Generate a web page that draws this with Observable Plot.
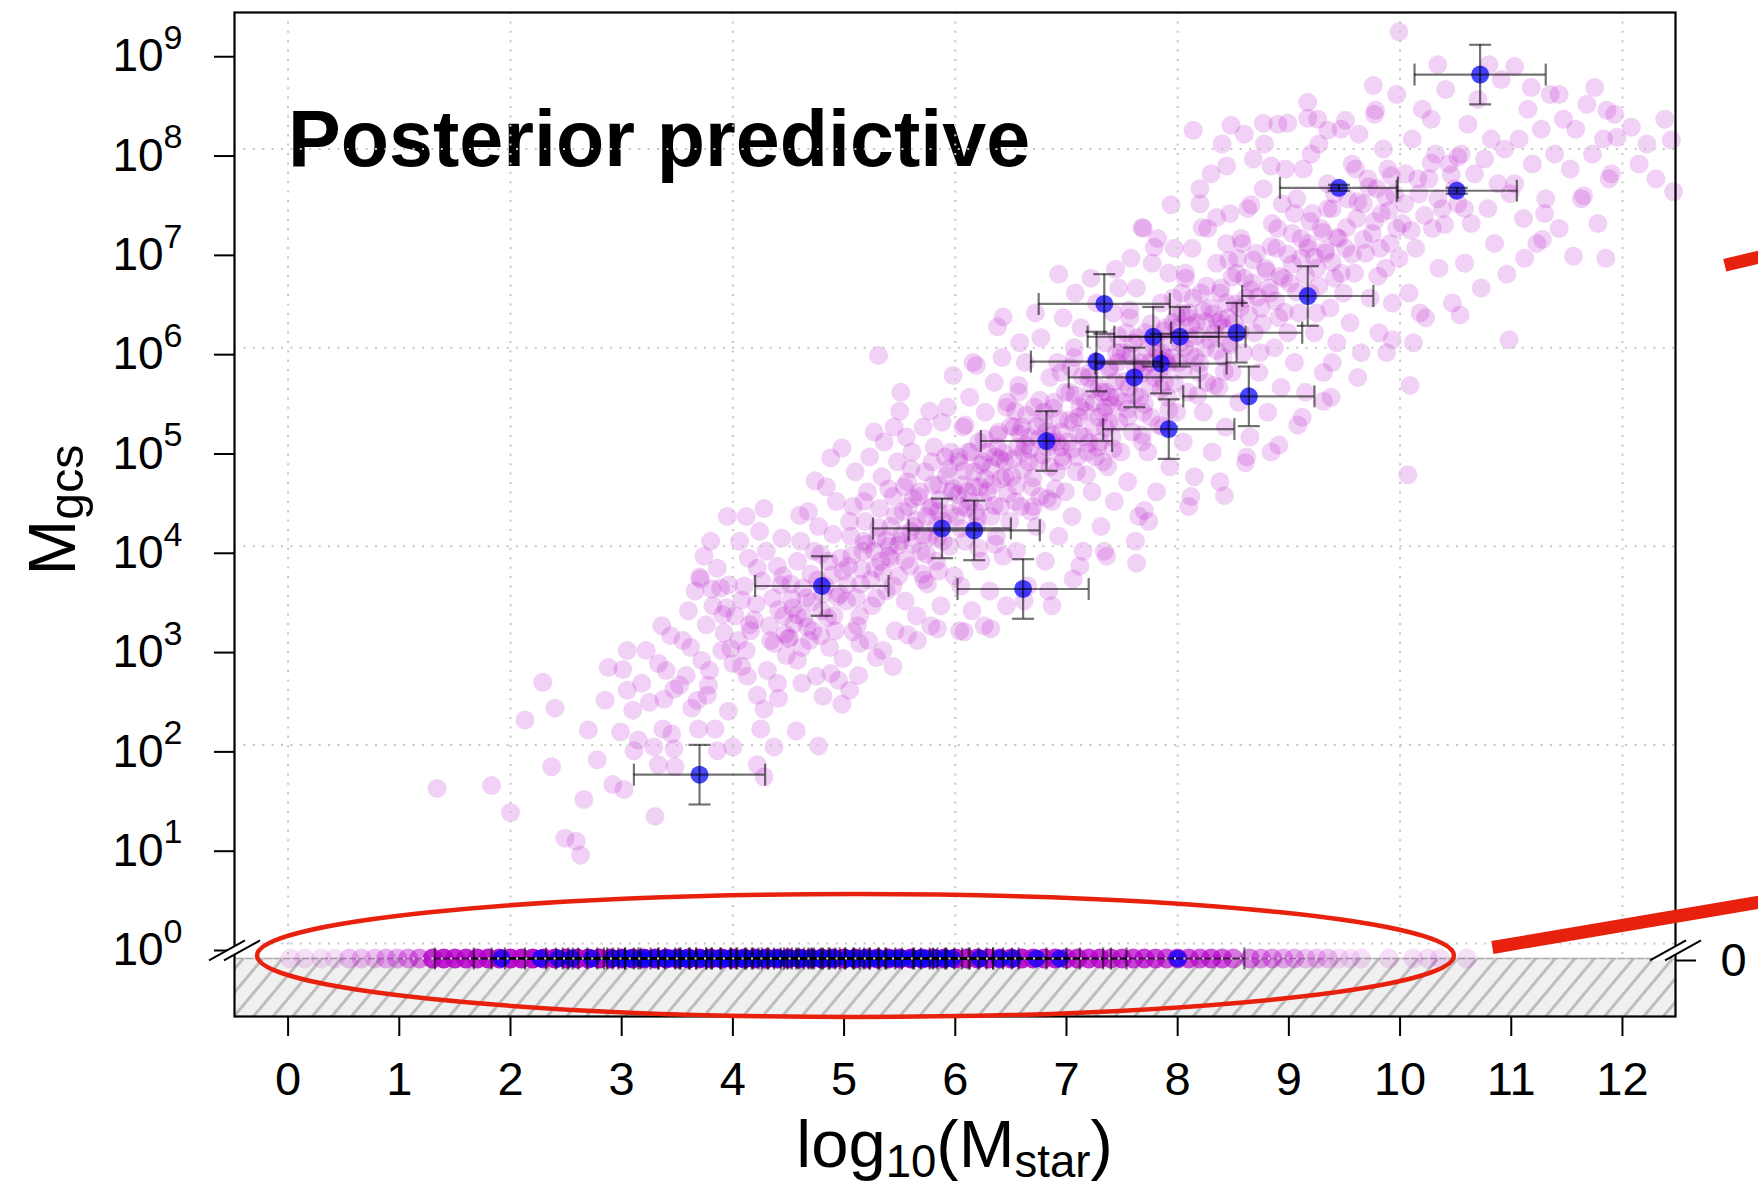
<!DOCTYPE html>
<html><head><meta charset="utf-8">
<script src="https://cdn.jsdelivr.net/npm/d3@7"></script>
<script src="https://cdn.jsdelivr.net/npm/@observablehq/plot@0.6"></script>
<style>
html,body{margin:0;padding:0;background:#fff;}
#chart svg{display:block;}
</style></head><body><div id="chart"></div>
<script>
// ---------------- DATA ----------------
// Observed galaxies with GC systems: log10(Mstar), log10(Mgcs), errors
const obsLogMstar = [10.72, 9.45, 10.51, 7.34, 9.17, 7.78, 8.02, 8.53, 7.27, 7.85, 7.61, 8.64, 7.92, 6.82, 5.88, 6.17, 6.61, 4.80, 3.70];
const obsLogMgcs  = [ 8.75, 7.61,  7.58, 6.44, 6.52, 6.11, 6.11, 6.15, 5.86, 5.84, 5.70, 5.51, 5.18, 5.06, 4.18, 4.16, 3.57, 3.60, 1.70];
const obsXerr     = [ 0.59, 0.53,  0.54, 0.59, 0.59, 0.59, 0.59, 0.59, 0.59, 0.59, 0.59, 0.59, 0.59, 0.59, 0.62, 0.59, 0.59, 0.60, 0.59];
const obsYerr     = [ 0.30, 0.03,  0.03, 0.30, 0.30, 0.30, 0.30, 0.30, 0.30, 0.30, 0.30, 0.30, 0.30, 0.30, 0.30, 0.30, 0.30, 0.30, 0.30];

// Observed galaxies with zero GCs: log10(Mstar)
const zeroObsLogMstar = [1.92, 2.27, 2.43, 2.55, 2.73, 2.92, 3.01, 3.07, 3.16, 3.21, 3.29, 3.38, 3.44, 3.52, 3.57, 3.63, 3.71, 3.77, 3.86, 3.93, 3.99, 4.08, 4.13, 4.21, 4.27, 4.36, 4.41, 4.49, 4.58, 4.63, 4.71, 4.78, 4.86, 4.92, 5.03, 5.09, 5.17, 5.24, 5.31, 5.39, 5.46, 5.52, 5.61, 5.68, 5.74, 5.83, 5.91, 5.97, 6.22, 6.40, 6.52, 6.73, 6.94, 8.00];
const zeroObsXerr = 0.6;

// Posterior predictive draws with zero GCs: log10(Mstar) bin and number of draws
const zeroSimLogMstar = [0.02, 0.15, 0.30, 0.42, 0.55, 0.66, 0.78, 0.88, 0.98, 1.08, 1.18,
  1.3, 1.4, 1.5, 1.6, 1.7, 1.8, 1.9, 2.0, 2.1, 2.2, 2.3, 2.4, 2.5, 2.6, 2.7, 2.8, 2.9, 3.0, 3.1, 3.2,
  3.3, 3.4, 3.5, 3.6, 3.7, 3.8, 3.9, 4.0, 4.1, 4.2, 4.3, 4.4, 4.5, 4.6, 4.7, 4.8, 4.9, 5.0, 5.1, 5.2,
  5.3, 5.4, 5.5, 5.6, 5.7, 5.8, 5.9, 6.0, 6.1, 6.2, 6.3, 6.4, 6.5, 6.6, 6.7, 6.8, 6.9, 7.0, 7.1, 7.2,
  7.3, 7.4, 7.5, 7.6, 7.7, 7.8, 7.9, 8.0, 8.1, 8.2, 8.3, 8.4, 8.5,
  8.65, 8.75, 8.85, 8.95, 9.05, 9.15, 9.25, 9.35, 9.45, 9.55, 9.65, 9.90, 10.12, 10.25, 10.36, 10.60, 10.72];
const zeroSimCount = [1, 1, 1, 1, 2, 2, 2, 3, 3, 4, 5,
  14, 16, 14, 15, 16, 18, 17, 19, 20, 22, 21, 24, 25, 26, 25, 27, 28, 27, 29,
  30, 29, 31, 30, 32, 31, 30, 32, 31, 30, 29, 31, 30, 28, 29, 27, 28, 26, 27, 25,
  26, 24, 25, 23, 22, 24, 21, 20, 22, 19, 18, 20, 17, 16, 18, 15, 14, 16, 13, 14,
  12, 13, 11, 12, 10, 11, 10, 9, 10, 9, 8, 9, 8,
  6, 5, 4, 4, 3, 3, 2, 2, 2, 1, 1, 1, 1, 1, 1, 1, 1];

// Posterior predictive draws with GCs: [log10(Mstar), log10(Mgcs)] — outer band
const cloudPoints = [
[1.34,1.56],[1.83,1.59],[2.00,1.32],[2.13,2.25],[2.29,2.63],[2.40,2.37],[2.37,1.78],[2.49,1.06],[2.59,1.03],[2.63,0.89],
[2.70,2.15],[2.78,1.85],[2.85,2.45],[2.92,1.60],[2.66,1.45],[2.88,2.78],
[3.01,2.76],[3.05,2.55],[2.99,2.13],[3.02,1.55],[3.30,1.28],[3.33,2.82],[3.25,2.43],[3.38,2.46],[3.47,2.56],[3.37,2.16],[3.45,2.11],[3.11,1.94],[3.29,1.98],[3.47,1.96],[3.33,1.80],[3.48,1.78],
[3.10,2.35],[3.18,2.62],[3.22,2.95],[3.40,2.75],[3.44,3.10],[3.15,2.05],[3.36,3.20],[3.05,2.95],
[3.62,2.98],[3.70,3.69],[3.76,3.21],[3.72,2.85],[3.79,2.75],[3.78,2.60],[3.63,2.37],[3.77,2.50],[3.69,2.16],[3.84,2.16],[3.86,1.94],[4.00,1.98],[3.89,3.58],[3.96,3.61],[3.92,3.13],[3.98,2.97],[3.96,2.34],
[3.55,3.05],[3.60,3.35],[3.66,3.55],[3.74,3.90],[3.82,3.40],[3.86,3.78],[3.90,2.95],[3.58,2.70],[3.68,2.45],[3.52,2.60],[3.80,4.05],[3.94,3.38],[3.71,3.67],[3.81,3.57],[3.91,3.31],[3.95,4.30],
[4.08,3.46],[4.00,2.82],[4.08,2.79],[4.13,2.69],[4.22,2.50],[4.25,2.16],[4.22,1.80],[4.28,1.68],[4.37,1.98],[4.41,2.47],[4.28,2.36],[4.19,3.26],[4.37,3.02],[4.22,3.78],[4.43,3.61],
[4.02,3.30],[4.05,3.05],[4.10,3.60],[4.14,3.88],[4.16,3.15],[4.21,3.42],[4.26,3.65],[4.30,3.95],[4.33,3.20],[4.36,3.48],[4.40,3.80],[4.44,4.08],[4.46,3.30],[4.48,2.90],[4.12,2.95],[4.31,2.75],[4.06,4.05],[4.24,4.15],[4.40,2.62],[4.12,4.30],[4.28,4.38],[4.15,3.21],
[4.57,2.14],[4.77,1.99],[4.62,2.62],[4.81,2.49],[4.98,2.41],[4.75,2.69],[4.95,2.65],[4.51,3.08],[4.69,3.05],[4.87,2.98],[4.99,2.87],[4.54,3.38],[4.72,3.15],[4.50,3.07],[4.60,4.31],[4.74,4.66],[4.88,4.89],[4.98,4.99],
[4.52,3.62],[4.58,3.85],[4.61,4.05],[4.66,3.48],[4.70,3.72],[4.73,3.95],[4.77,4.20],[4.80,3.35],[4.83,3.60],[4.86,3.85],[4.90,4.12],[4.93,4.45],[4.96,3.52],[4.99,3.75],[4.55,3.22],[4.64,3.28],[4.79,3.10],[4.91,3.30],[4.68,4.35],[4.84,4.60],[4.58,2.85],[4.88,2.72],
[5.05,2.55],[5.29,2.88],[5.14,3.02],[5.44,2.79],[5.08,3.14],[5.31,5.92],
[5.02,3.45],[5.04,3.80],[5.06,4.10],[5.08,4.40],[5.10,4.75],[5.12,3.20],[5.15,3.62],[5.17,3.95],[5.19,4.25],[5.21,4.55],[5.23,4.90],[5.25,3.40],[5.28,3.78],[5.30,4.08],[5.32,4.38],[5.34,4.70],[5.36,5.05],[5.38,3.55],[5.40,3.90],[5.42,4.20],[5.44,4.50],[5.46,3.15],[5.48,4.85],[5.49,3.70],[5.13,2.70],[5.22,3.05],[5.35,2.95],[5.27,5.15],[5.45,5.20],[5.18,4.05],[5.33,3.85],[5.41,4.00],
[5.51,5.55],[5.50,5.36],[5.77,5.36],[5.98,5.72],[5.57,3.11],[5.84,3.17],
[5.51,4.05],[5.53,4.35],[5.55,3.45],[5.57,4.65],[5.59,3.80],[5.61,4.95],[5.63,4.20],[5.65,3.30],[5.67,4.50],[5.69,3.95],[5.71,5.20],[5.73,4.75],[5.75,3.62],[5.77,4.10],[5.79,4.40],[5.81,5.00],[5.83,3.85],[5.85,4.62],[5.87,3.40],[5.89,4.25],[5.91,4.90],[5.93,5.40],[5.95,4.00],[5.97,4.55],[5.99,3.70],[5.56,5.10],[5.66,3.05],[5.78,3.20],[5.88,5.25],[5.62,4.48],[5.74,4.30],[5.84,4.08],[5.94,4.78],[5.85,4.35],[5.60,4.15],[5.70,3.72],
[6.19,5.82],[6.38,6.21],[6.43,6.31],[6.08,3.14],[6.32,3.17],
[6.01,4.30],[6.03,4.85],[6.05,3.60],[6.07,5.20],[6.09,4.05],[6.11,4.55],[6.13,5.50],[6.15,3.35],[6.17,4.75],[6.19,4.20],[6.21,5.05],[6.23,3.85],[6.25,4.45],[6.27,5.35],[6.29,4.95],[6.31,3.55],[6.33,4.62],[6.35,5.65],[6.37,4.10],[6.39,5.15],[6.41,4.40],[6.43,3.90],[6.45,4.85],[6.47,5.45],[6.49,4.25],[6.06,4.62],[6.16,5.85],[6.26,3.20],[6.36,4.90],[6.46,3.40],[6.12,4.95],[6.22,4.60],[6.32,4.30],[6.42,5.90],[6.04,3.15],[6.05,4.40],[6.25,4.85],[6.45,4.70],[6.18,4.35],[6.38,5.00],
[6.93,6.74],[6.87,3.40],
[6.51,4.70],[6.53,5.20],[6.55,3.95],[6.57,5.55],[6.59,4.40],[6.61,4.95],[6.63,5.85],[6.65,3.60],[6.67,5.10],[6.69,4.60],[6.71,5.40],[6.73,4.20],[6.75,4.85],[6.77,6.10],[6.79,5.25],[6.81,3.85],[6.83,5.00],[6.85,5.70],[6.87,4.45],[6.89,5.45],[6.91,4.75],[6.93,4.10],[6.95,5.15],[6.97,6.30],[6.99,4.55],[6.56,5.00],[6.66,4.85],[6.76,4.50],[6.86,5.05],[6.96,4.90],[6.62,3.45],[6.84,3.55],[6.72,6.35],[6.58,6.05],[6.92,5.85],[6.60,5.20],[6.80,5.35],[6.70,4.40],[6.95,5.00],[6.54,4.45],
[7.44,6.79],[7.06,3.67],[7.36,3.90],
[7.01,5.05],[7.03,5.55],[7.05,4.30],[7.07,5.90],[7.09,4.75],[7.11,5.30],[7.13,6.20],[7.15,3.95],[7.17,5.45],[7.19,4.95],[7.21,5.75],[7.23,4.55],[7.25,5.20],[7.27,6.45],[7.29,5.60],[7.31,4.20],[7.33,5.35],[7.35,6.05],[7.37,4.80],[7.39,5.80],[7.41,5.10],[7.43,4.45],[7.45,5.50],[7.47,6.60],[7.49,4.95],[7.06,5.25],[7.16,5.10],[7.26,4.90],[7.36,5.55],[7.46,5.85],[7.12,3.80],[7.34,3.95],[7.22,6.70],[7.42,6.35],[7.08,6.55],[7.28,5.00],[7.38,5.25],[7.20,5.70],[7.45,5.95],[7.35,5.40],[7.10,4.90],[7.30,5.05],
[7.68,7.21],[7.79,7.01],[7.94,7.44],[7.63,3.83],[7.70,4.36],[7.69,7.20],
[7.51,5.45],[7.53,5.95],[7.55,4.65],[7.57,6.30],[7.59,5.15],[7.61,5.70],[7.63,6.60],[7.65,4.30],[7.67,5.85],[7.69,5.35],[7.71,6.15],[7.73,4.95],[7.75,5.60],[7.77,6.85],[7.79,6.00],[7.81,4.55],[7.83,5.75],[7.85,6.45],[7.87,5.20],[7.89,6.20],[7.91,5.50],[7.93,4.80],[7.95,5.90],[7.97,7.00],[7.99,5.35],[7.56,5.60],[7.66,5.50],[7.76,5.30],[7.86,5.95],[7.96,6.25],[7.62,4.05],[7.74,4.25],[7.82,7.10],[7.92,6.75],[7.58,6.90],[7.68,5.05],[7.88,5.65],[7.60,6.05],[7.70,5.80],[7.80,6.10],[7.90,5.85],[7.55,5.30],
[8.22,7.21],[8.35,7.31],[8.10,4.40],[8.42,4.51],[8.14,8.19],[8.48,8.24],[8.44,7.83],[8.30,7.75],[8.40,8.05],[8.20,7.60],
[8.01,5.85],[8.03,6.35],[8.05,5.05],[8.07,6.70],[8.09,5.55],[8.11,6.10],[8.13,7.00],[8.15,4.70],[8.17,6.25],[8.19,5.75],[8.21,6.55],[8.23,5.35],[8.25,6.00],[8.27,7.20],[8.29,6.40],[8.31,4.95],[8.33,6.15],[8.35,6.85],[8.37,5.60],[8.39,6.60],[8.41,5.90],[8.43,5.20],[8.45,6.30],[8.47,7.35],[8.49,5.75],[8.06,6.00],[8.16,5.90],[8.26,5.65],[8.36,6.25],[8.46,6.05],[8.12,4.50],[8.38,4.65],[8.20,7.45],[8.44,7.05],[8.00,6.20],[8.10,6.35],
[8.66,7.44],[8.61,4.84],[8.91,5.02],[8.77,8.26],[8.99,8.26],[8.84,7.83],[8.60,8.15],[8.90,8.25],
[8.51,6.25],[8.53,6.75],[8.55,5.45],[8.57,7.10],[8.59,5.95],[8.61,6.50],[8.63,7.40],[8.65,5.10],[8.67,6.65],[8.69,6.15],[8.71,6.95],[8.73,5.75],[8.75,6.40],[8.77,7.60],[8.79,6.80],[8.81,5.35],[8.83,6.55],[8.85,7.25],[8.87,6.00],[8.89,7.00],[8.91,6.30],[8.93,5.60],[8.95,6.70],[8.97,7.80],[8.99,6.15],[8.56,6.40],[8.68,7.90],[8.84,4.95],[8.62,4.90],[8.78,8.05],[8.94,7.45],
[9.08,5.22],[9.17,8.47],[9.17,8.31],[9.35,8.19],[9.39,5.85],[9.31,5.46],
[9.01,6.65],[9.03,7.15],[9.05,5.85],[9.07,7.50],[9.09,6.35],[9.11,6.90],[9.13,7.80],[9.15,5.55],[9.17,7.05],[9.19,6.55],[9.21,7.35],[9.23,6.15],[9.25,6.80],[9.27,8.05],[9.29,7.20],[9.31,5.75],[9.33,6.95],[9.35,7.65],[9.37,6.40],[9.39,7.40],[9.41,6.70],[9.43,6.05],[9.45,7.10],[9.47,8.20],[9.49,6.55],[9.12,5.30],[9.26,8.30],[9.38,5.50],[9.20,7.95],
[9.51,8.29],[9.76,8.64],[9.78,8.39],[9.93,6.08],[9.99,9.18],
[9.51,7.00],[9.53,7.50],[9.55,6.25],[9.57,7.85],[9.59,6.75],[9.61,7.30],[9.63,8.15],[9.65,5.95],[9.67,7.45],[9.69,6.95],[9.71,7.70],[9.73,6.50],[9.75,7.15],[9.77,8.35],[9.79,7.60],[9.81,6.15],[9.83,7.35],[9.85,8.00],[9.87,6.80],[9.89,7.80],[9.91,7.05],[9.93,6.45],[9.95,7.55],[9.97,8.55],[9.99,6.90],[9.62,5.70],[9.88,5.95],
[10.09,5.62],[10.18,6.35],[10.34,8.85],[10.07,4.72],
[10.02,7.25],[10.05,7.75],[10.08,6.55],[10.11,8.10],[10.14,7.00],[10.17,7.55],[10.20,8.40],[10.23,6.30],[10.26,7.70],[10.29,7.20],[10.32,7.95],[10.35,6.80],[10.38,7.40],[10.41,8.60],[10.44,7.85],[10.47,6.45],[10.49,7.60],[10.12,6.05],[10.28,8.30],
[10.54,6.33],[10.96,6.74],[10.98,6.08],
[10.52,7.45],[10.55,7.95],[10.58,6.85],[10.61,8.25],[10.64,7.25],[10.67,7.75],[10.70,8.50],[10.73,6.60],[10.76,7.90],[10.79,7.40],[10.82,8.10],[10.85,7.05],[10.88,7.65],[10.91,8.70],[10.94,8.00],[10.99,7.55],[10.80,8.85],
[11.03,8.83],[11.18,8.62],[11.43,8.55],[11.30,7.35],[11.28,7.09],
[11.03,7.65],[11.07,8.10],[11.11,7.30],[11.15,8.40],[11.19,7.85],[11.23,7.05],[11.27,8.20],[11.31,7.50],[11.35,8.55],[11.39,7.95],[11.43,7.20],[11.47,8.30],[11.12,6.90],
[11.75,8.62],[11.86,8.39],[11.95,8.12],[11.90,7.75],[11.65,7.53],[11.56,6.92],[11.85,6.90],
[11.53,7.80],[11.58,8.20],[11.63,7.50],[11.68,8.45],[11.73,7.95],[11.78,7.25],[11.83,8.10],[11.88,7.70],[11.93,8.35],
[12.08,8.22],[12.15,7.85],[12.22,8.05],[12.30,7.70],[12.44,8.09],[12.46,7.57],[12.38,8.30]
];

// Posterior predictive draws with GCs — dense ridge of the band
const cloudCorePoints = [
[4.34,3.05],[4.41,3.36],[4.47,3.12],[4.53,3.47],[4.58,3.31],[4.63,3.58],[4.67,3.19],[4.71,3.44],[4.76,3.66],[4.81,3.52],[4.85,3.28],[4.89,3.71],[4.94,3.49],[4.97,3.88],[4.45,3.70],[4.62,2.98],[4.79,3.92],[4.92,3.15],
[5.03,3.62],[5.07,3.91],[5.11,3.48],[5.16,3.77],[5.20,4.02],[5.24,3.66],[5.27,3.95],[5.31,4.19],[5.35,3.73],[5.38,4.06],[5.42,3.88],[5.46,4.31],[5.49,4.01],[5.05,4.25],[5.14,3.30],[5.29,3.48],[5.44,3.60],[5.18,4.45],[5.40,4.58],
[5.52,4.12],[5.55,3.86],[5.58,4.40],[5.62,4.02],[5.65,4.26],[5.68,4.55],[5.71,4.11],[5.74,3.92],[5.77,4.38],[5.80,4.62],[5.83,4.21],[5.86,4.47],[5.89,4.05],[5.92,4.71],[5.95,4.33],[5.98,4.58],[5.60,4.78],[5.72,3.66],[5.85,3.75],[5.96,4.95],[5.54,4.60],[5.79,4.85],
[6.02,4.52],[6.05,4.18],[6.08,4.76],[6.11,4.38],[6.14,4.95],[6.17,4.60],[6.20,4.29],[6.23,4.82],[6.26,5.08],[6.29,4.55],[6.32,4.79],[6.35,4.41],[6.38,5.12],[6.41,4.68],[6.44,4.94],[6.47,4.53],[6.50,5.21],[6.09,5.22],[6.21,3.98],[6.36,4.02],[6.46,5.40],[6.13,4.45],[6.27,4.68],[6.40,4.88],[6.03,4.90],
[6.52,4.88],[6.55,4.61],[6.58,5.13],[6.61,4.77],[6.64,5.32],[6.67,4.98],[6.70,4.69],[6.73,5.21],[6.76,5.47],[6.79,4.92],[6.82,5.16],[6.85,4.80],[6.88,5.39],[6.91,5.05],[6.94,5.28],[6.97,4.86],[6.99,5.55],[6.57,5.62],[6.68,4.35],[6.83,4.48],[6.95,5.75],[6.63,5.02],[6.75,5.08],[6.87,5.12],[6.54,5.36],[6.90,4.58],
[7.02,5.27],[7.05,4.98],[7.08,5.52],[7.11,5.13],[7.14,5.71],[7.17,5.36],[7.20,5.04],[7.23,5.58],[7.26,5.86],[7.29,5.30],[7.32,5.55],[7.35,5.19],[7.38,5.78],[7.41,5.42],[7.44,5.66],[7.47,5.25],[7.49,5.95],[7.07,6.00],[7.18,4.72],[7.33,4.85],[7.46,6.12],[7.12,5.40],[7.25,5.45],[7.39,5.50],[7.04,5.80],[7.42,4.98],
[7.52,5.66],[7.55,5.38],[7.58,5.92],[7.61,5.52],[7.64,6.10],[7.67,5.74],[7.70,5.43],[7.73,5.98],[7.76,6.24],[7.79,5.70],[7.82,5.95],[7.85,5.58],[7.88,6.17],[7.91,5.82],[7.94,6.06],[7.97,5.64],[7.99,6.32],[7.57,6.38],[7.68,5.12],[7.83,5.22],[7.96,6.50],[7.62,5.80],[7.75,5.85],[7.89,5.90],[7.54,6.15],[7.92,5.37],
[8.02,6.05],[8.05,5.78],[8.08,6.31],[8.11,5.93],[8.14,6.50],[8.17,6.12],[8.20,5.84],[8.23,6.37],[8.26,6.62],[8.29,6.08],[8.32,6.34],[8.35,5.97],[8.38,6.55],[8.41,6.20],[8.44,6.45],[8.47,6.03],[8.49,6.71],[8.07,6.75],[8.18,5.52],[8.33,5.62],[8.46,6.88],[8.12,6.22],[8.25,6.26],[8.39,6.28],[8.04,6.55],[8.42,5.76],
[8.52,6.44],[8.56,6.16],[8.60,6.70],[8.64,6.33],[8.68,6.88],[8.72,6.51],[8.76,6.24],[8.80,6.77],[8.84,7.02],[8.88,6.47],[8.92,6.72],[8.96,6.36],[8.99,6.94],[8.58,7.05],[8.74,5.95],[8.90,7.20],[8.66,6.58],[8.82,6.60],[8.54,6.90],
[9.03,6.84],[9.07,6.56],[9.11,7.10],[9.15,6.73],[9.19,7.27],[9.23,6.91],[9.27,6.62],[9.31,7.16],[9.35,7.40],[9.39,6.86],[9.43,7.11],[9.47,6.75],[9.05,7.35],[9.25,6.35],[9.41,7.55],[9.17,7.00],[9.33,6.98],
[9.52,7.21],[9.57,6.94],[9.62,7.47],[9.67,7.09],[9.72,7.62],[9.77,7.27],[9.82,7.00],[9.87,7.52],[9.92,7.73],[9.97,7.20],[9.60,7.80],[9.80,6.72],[9.90,7.38],
[10.04,7.45],[10.10,7.18],[10.16,7.70],[10.22,7.33],[10.28,7.86],[10.34,7.50],[10.40,7.24],[10.46,7.74],[10.52,7.92],[10.58,7.40]
];

// Axis ticks and grid
const xTicks = [0,1,2,3,4,5,6,7,8,9,10,11,12];
const yTickExponents = [0,1,2,3,4,5,6,7,8,9];
const gridX = [0,2,4,6,8,10,12];
const gridY = [0,2,4,6,8];

// Layout of the broken axis (in data units)
const xDomain = [-0.482, 12.477];
const yDomain = [-0.735, 9.375];
const zeroRowY = -0.151;   // where Mgcs = 0 is drawn
const breakY = -0.07;

// Annotations (data units)
const titleText = "Posterior predictive";
const titleAt = {x: 0, y: 8.08};
const ellipseAnn = {cx: 5.107, cy: -0.126, rx: 5.382, ry: 0.619};
const redLinks = [
  {x1: 10.83, y1: -0.04, x2: 13.30, y2: 0.43},
  {x1: 12.92, y1: 6.83, x2: 13.30, y2: 6.93}
];

// ---------------- CHART ----------------
const FONT = "'Liberation Sans', Arial, Helvetica, sans-serif";
const cloudColor = "#b400c8";
const red = "#e8210f";

const obs = obsLogMstar.map((x, i) => ({x, y: obsLogMgcs[i], xe: obsXerr[i], ye: obsYerr[i]}));
const zeroObs = zeroObsLogMstar.map(x => ({x, xe: zeroObsXerr}));
const zeroSims = zeroSimLogMstar.map((x, i) => ({x, n: zeroSimCount[i]}));
const allCloud = cloudPoints.concat(cloudCorePoints);
const capsX = obs.flatMap(d => [{x: d.x - d.xe, y: d.y}, {x: d.x + d.xe, y: d.y}])
  .concat(zeroObs.flatMap(d => [{x: d.x - d.xe, y: zeroRowY}, {x: d.x + d.xe, y: zeroRowY}]));
const capsY = obs.flatMap(d => [{x: d.x, y: d.y - d.ye}, {x: d.x, y: d.y + d.ye}]);
const hatchRect = [{x1: xDomain[0], x2: xDomain[1], y1: yDomain[0], y2: zeroRowY}];
const breaks = [{x: xDomain[0], y: breakY}, {x: xDomain[1], y: breakY}];

const vCap = {draw(c, s) { const r = Math.sqrt(s / Math.PI); c.moveTo(0, -r); c.lineTo(0, r); }};
const hCap = {draw(c, s) { const r = Math.sqrt(s / Math.PI); c.moveTo(-r, 0); c.lineTo(r, 0); }};
const breakLines = {draw(c) { c.moveTo(-25.5, 10); c.lineTo(10.5, -10); c.moveTo(-10.5, 10); c.lineTo(25.5, -10); }};
const breakGap = {draw(c) { c.moveTo(-25.5, 10); c.lineTo(10.5, -10); c.lineTo(25.5, -10); c.lineTo(-10.5, 10); c.closePath(); }};

const barStyle = {stroke: "black", strokeOpacity: 0.55, strokeWidth: 2.2};
const gridStyle = {stroke: "#c6c6c6", strokeWidth: 2, strokeDasharray: "2,7.4"};

const plot = Plot.plot({
  width: 1758, height: 1188,
  marginLeft: 234, marginRight: 83, marginTop: 12, marginBottom: 172,
  style: {fontFamily: FONT, background: "#fff", color: "black"},
  x: {domain: xDomain, label: null},
  y: {domain: yDomain, label: null},
  opacity: {type: "identity"},
  marks: [
    Plot.text([titleAt], {x: "x", y: "y", text: () => titleText, fontSize: 79, fontWeight: "bold", textAnchor: "start", fill: "black", fontFamily: FONT}),
    Plot.dot(allCloud, {x: d => d[0], y: d => d[1], r: 9.5, fill: cloudColor, fillOpacity: 0.18}),
    Plot.ruleX(gridX, gridStyle),
    Plot.ruleY(gridY, gridStyle),
    Plot.rect(hatchRect, {x1: "x1", x2: "x2", y1: "y1", y2: "y2", fill: "url(#hatch)"}),
    Plot.ruleY([zeroRowY], {stroke: "#a8a8a8", strokeWidth: 1.5}),
    Plot.dot(zeroSims, {x: "x", y: zeroRowY, r: 10, fill: cloudColor, fillOpacity: d => 1 - Math.pow(0.88, d.n)}),
    Plot.dot(zeroObs, {x: "x", y: zeroRowY, r: 9, fill: "#0000ff", fillOpacity: 0.72}),
    Plot.dot(obs, {x: "x", y: "y", r: 9, fill: "#0000ff", fillOpacity: 0.72}),
    Plot.ruleY(obs, {y: "y", x1: d => d.x - d.xe, x2: d => d.x + d.xe, ...barStyle}),
    Plot.ruleX(obs, {x: "x", y1: d => d.y - d.ye, y2: d => d.y + d.ye, ...barStyle}),
    Plot.ruleY(zeroObs, {y: zeroRowY, x1: d => d.x - d.xe, x2: d => d.x + d.xe, ...barStyle}),
    Plot.dot(capsX, {x: "x", y: "y", r: 11, symbol: vCap, fill: "none", ...barStyle}),
    Plot.dot(capsY, {x: "x", y: "y", r: 11, symbol: hCap, fill: "none", ...barStyle}),
    Plot.ruleY([zeroRowY], {stroke: "#dcdcdc", strokeWidth: 2, strokeDasharray: "2,7.4"}),
    Plot.frame({stroke: "black", strokeWidth: 2.2}),
    Plot.axisX({ticks: xTicks, tickFormat: d => String(d), tickSize: 20, tickPadding: 25, fontSize: 47, strokeWidth: 2, label: null}),
    Plot.axisY({ticks: yTickExponents, tickFormat: d => "10^" + d, tickSize: 20, tickPadding: 32, fontSize: 46, strokeWidth: 2, dy: 7, label: null}),
    Plot.axisY({anchor: "right", ticks: [zeroRowY], tickFormat: () => "0", tickSize: 20, tickPadding: 25, fontSize: 47, strokeWidth: 2, dy: 2, label: null}),
    Plot.dot(breaks, {x: "x", y: "y", r: 10, symbol: breakGap, fill: "white", stroke: "none"}),
    Plot.dot(breaks, {x: "x", y: "y", r: 10, symbol: breakLines, fill: "none", stroke: "black", strokeWidth: 2}),
    Plot.link(redLinks, {x1: "x1", y1: "y1", x2: "x2", y2: "y2", stroke: red, strokeWidth: 13})
  ]
});

const svg = d3.select(plot);
// hatch pattern
const defs = svg.insert("defs", ":first-child");
const pat = defs.append("pattern").attr("id", "hatch").attr("patternUnits", "userSpaceOnUse")
  .attr("width", 15).attr("height", 15).attr("patternTransform", "rotate(40)");
pat.append("rect").attr("width", 15).attr("height", 15).attr("fill", "#f0f0f0");
pat.append("line").attr("x1", 7.5).attr("y1", -1).attr("x2", 7.5).attr("y2", 16).attr("stroke", "#bebebe").attr("stroke-width", 3);

// superscript tick labels 10^k
svg.selectAll('g[aria-label="y-axis tick label"] text').each(function () {
  const m = (this.textContent || "").match(/^10\^(\d+)$/);
  if (!m) return;
  const t = d3.select(this);
  t.text(null);
  t.append("tspan").text("10");
  t.append("tspan").attr("font-size", "0.74em").attr("dy", "-0.66em").text(m[1]);
});

// red ellipse annotation through the plot scales
const xs = plot.scale("x"), ys = plot.scale("y");
const ecx = xs.apply(ellipseAnn.cx), ecy = ys.apply(ellipseAnn.cy);
svg.append("ellipse")
  .attr("cx", ecx).attr("cy", ecy)
  .attr("rx", xs.apply(ellipseAnn.cx + ellipseAnn.rx) - ecx)
  .attr("ry", ecy - ys.apply(ellipseAnn.cy + ellipseAnn.ry))
  .attr("fill", "none").attr("stroke", red).attr("stroke-width", 4.5);

// axis titles
const xr = xs.range;
const xt = svg.append("text").attr("x", (xr[0] + xr[1]) / 2).attr("y", 1167)
  .attr("text-anchor", "middle").attr("font-size", 67).attr("font-family", FONT).attr("fill", "black");
xt.append("tspan").text("log");
xt.append("tspan").attr("font-size", "0.68em").attr("dy", 10).text("10");
xt.append("tspan").attr("dy", -10).text("(M");
xt.append("tspan").attr("font-size", "0.68em").attr("dy", 10).text("star");
xt.append("tspan").attr("dy", -10).text(")");

const yt = svg.append("text").attr("transform", "translate(75,510) rotate(-90)")
  .attr("text-anchor", "middle").attr("font-size", 67).attr("font-family", FONT).attr("fill", "black");
yt.append("tspan").text("M");
yt.append("tspan").attr("font-size", "0.72em").attr("dy", 8).text("gcs");

document.getElementById("chart").appendChild(plot);
</script></body></html>
